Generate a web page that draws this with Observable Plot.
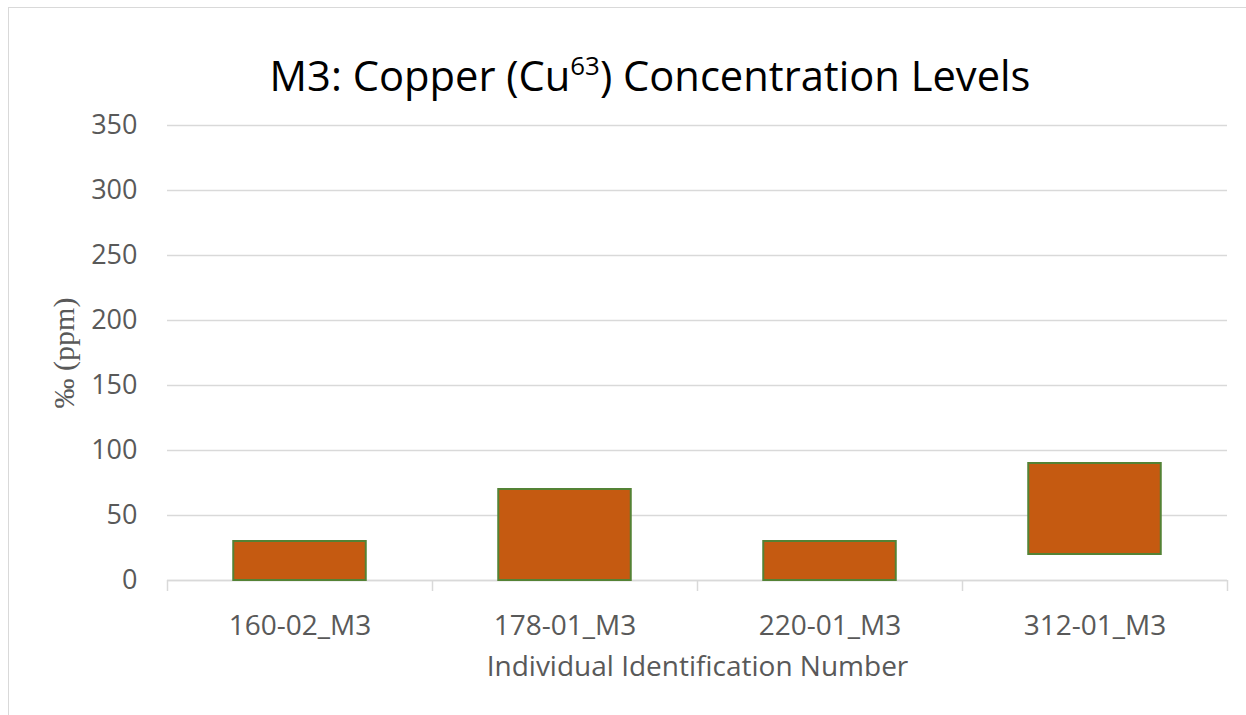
<!DOCTYPE html>
<html>
<head>
<meta charset="utf-8">
<script src="https://cdn.jsdelivr.net/npm/d3@7"></script>
<script src="https://cdn.jsdelivr.net/npm/@observablehq/plot@0.6"></script>
<style>
  html, body { margin: 0; padding: 0; background: #fff; overflow: hidden; width: 1246px; height: 715px; }
  #wrap { position: relative; width: 1246px; height: 715px; }
  #frame { position: absolute; left: 8px; top: 7px; width: 1400px; height: 900px; border: 1.5px solid #d9d9d9; box-sizing: border-box; pointer-events: none; }
  #title { position: relative; height: 105px; }
  #title span { position: absolute; top: 46px; white-space: nowrap; font-family: "Open Sans", sans-serif; font-size: 44px; line-height: 44px; color: #000; }
  #title sup { font-size: 0.62em; line-height: 0; vertical-align: 0; position: relative; top: -0.62em; }
  svg { display: block; }
</style>
</head>
<body>
<div id="wrap">
  <div id="frame"></div>
  <div id="title"><span id="tt">M3: Copper (Cu<sup>63</sup>) Concentration Levels</span></div>
  <div id="chart"></div>
</div>
<script>
const categories = ["160-02_M3", "178-01_M3", "220-01_M3", "312-01_M3"];
const lows = [0, 0, 0, 20];
const highs = [30, 70, 30, 90];
const yTicks = [0, 50, 100, 150, 200, 250, 300, 350];
const xLabel = "Individual Identification Number";
const yLabel = "‰ (ppm)";

const data = categories.map((c, i) => ({ c, i, lo: lows[i], hi: highs[i] }));
const bounds = d3.range(categories.length + 1);
const centers = categories.map((c, i) => i + 0.5);

const grey = "#d9d9d9";
const textColor = "#595959";

const plot = Plot.plot({
  width: 1246,
  height: 610,
  marginLeft: 167,
  marginRight: 19,
  marginTop: 20,
  marginBottom: 135,
  style: { fontFamily: "'Open Sans', sans-serif", background: "transparent", overflow: "visible" },
  x: { type: "linear", domain: [0, categories.length] },
  y: { domain: [0, 350] },
  marks: [
    Plot.gridY(yTicks, { stroke: grey, strokeOpacity: 1, strokeWidth: 1.5 }),
    Plot.ruleY([0], { stroke: grey, strokeWidth: 1.5 }),
    Plot.ruleX(bounds, { x: d => d, y1: 0, y2: 0, insetBottom: -11, stroke: grey, strokeWidth: 1.5 }),
    Plot.rectY(data, {
      x1: d => d.i + 0.25,
      x2: d => d.i + 0.75,
      y1: "lo",
      y2: "hi",
      fill: "#C55A11",
      stroke: "#548235",
      strokeWidth: 2
    }),
    Plot.axisY(yTicks, { tickSize: 0, tickPadding: 30, fontSize: 27, fill: textColor, label: null }),
    Plot.axisX(centers, {
      tickSize: 0, tickPadding: 35, fontSize: 28, fill: textColor, label: null,
      tickFormat: v => categories[Math.floor(v)]
    }),
    Plot.text([xLabel], { frameAnchor: "bottom", dy: 87, lineAnchor: "middle", textAnchor: "middle", fontSize: 28, fill: textColor, text: d => d }),
    Plot.text([yLabel], { frameAnchor: "left", dx: -103, rotate: -90, lineAnchor: "middle", textAnchor: "middle", fontSize: 30, fill: textColor, fontFamily: "'Liberation Serif', serif", text: d => d })
  ]
});
document.getElementById("chart").appendChild(plot);

// Fit the title to the reference width and center
const tt = document.getElementById("tt");
const targetW = 761, centerX = 650;
let w = tt.getBoundingClientRect().width;
const fs = 44 * targetW / w;
tt.style.fontSize = fs + "px";
w = tt.getBoundingClientRect().width;
tt.style.left = (centerX - w / 2) + "px";
tt.style.top = (85 - 0.77 * fs) + "px";
</script>
</body>
</html>
